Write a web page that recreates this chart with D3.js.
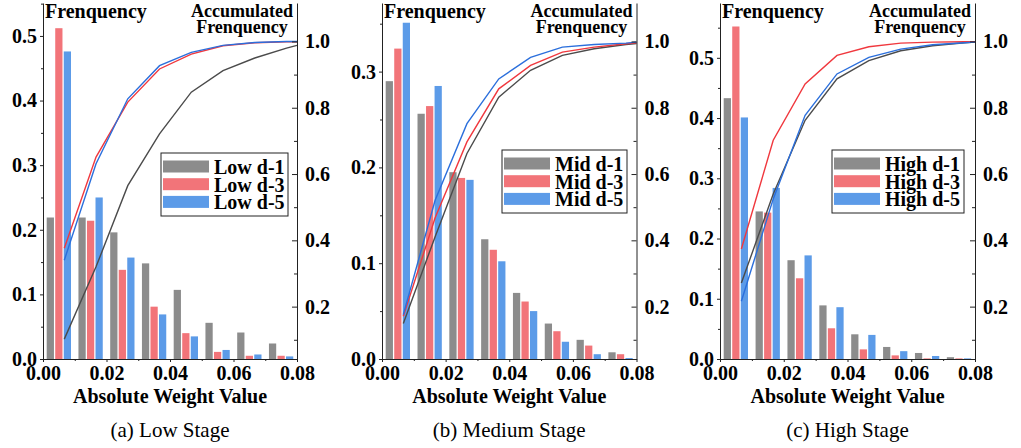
<!DOCTYPE html>
<html>
<head>
<meta charset="utf-8">
<script src="https://cdn.jsdelivr.net/npm/d3@7"></script>
<style>
  body { margin: 0; background: #fff; }
  svg { display: block; font-family: "Liberation Serif", "Times New Roman", serif; }
  svg text { font-family: "Liberation Serif", "Times New Roman", serif; }
  .tick text { font-size: 20px; font-weight: bold; fill: #000; }
  .domain, .tick line { stroke: #222; }
</style>
</head>
<body>
<svg id="chart" width="1021" height="448"></svg>
<script>
// =====================
// Data
// =====================
const binStarts = [0.00, 0.01, 0.02, 0.03, 0.04, 0.05, 0.06, 0.07];           // histogram bins (width 0.01)
const cumX = [0.0067, 0.0167, 0.0267, 0.0367, 0.0467, 0.0567, 0.0667, 0.0767, 0.08]; // points of accumulated curves
const seriesKeys = ['d-1', 'd-3', 'd-5'];

// Low stage
const lowD1 = [0.219, 0.219, 0.196, 0.148, 0.107, 0.056, 0.041, 0.024];
const lowD3 = [0.512, 0.214, 0.138, 0.081, 0.040, 0.011, 0.005, 0.005];
const lowD5 = [0.476, 0.250, 0.157, 0.069, 0.035, 0.014, 0.007, 0.004];
const lowCum1 = [0.102, 0.320, 0.565, 0.721, 0.847, 0.912, 0.950, 0.980, 0.988];
const lowCum3 = [0.376, 0.651, 0.817, 0.917, 0.962, 0.987, 0.996, 0.999, 0.999];
const lowCum5 = [0.340, 0.631, 0.827, 0.927, 0.967, 0.988, 0.997, 1.000, 1.000];

// Medium stage
const midD1 = [0.290, 0.256, 0.195, 0.125, 0.069, 0.037, 0.020, 0.007];
const midD3 = [0.324, 0.264, 0.189, 0.114, 0.060, 0.029, 0.014, 0.005];
const midD5 = [0.351, 0.285, 0.187, 0.102, 0.050, 0.018, 0.005, 0.001];
const midCum1 = [0.149, 0.411, 0.662, 0.832, 0.913, 0.958, 0.978, 0.991, 0.994];
const midCum3 = [0.171, 0.468, 0.697, 0.857, 0.928, 0.968, 0.983, 0.993, 0.996];
const midCum5 = [0.176, 0.521, 0.752, 0.887, 0.952, 0.983, 0.991, 0.995, 0.998];

// High stage
const highD1 = [0.433, 0.245, 0.164, 0.089, 0.041, 0.020, 0.010, 0.003];
const highD3 = [0.552, 0.243, 0.134, 0.051, 0.016, 0.006, 0.001, 0.001];
const highD5 = [0.401, 0.284, 0.172, 0.086, 0.040, 0.013, 0.005, 0.001];
const highCum1 = [0.271, 0.540, 0.762, 0.887, 0.942, 0.972, 0.987, 0.996, 0.998];
const highCum3 = [0.374, 0.702, 0.872, 0.958, 0.984, 0.995, 0.998, 0.999, 0.999];
const highCum5 = [0.216, 0.525, 0.777, 0.902, 0.952, 0.977, 0.990, 0.996, 0.998];

const xTicks = [0, 0.02, 0.04, 0.06, 0.08];
const rightTicks = [0.2, 0.4, 0.6, 0.8, 1.0];

// =====================
// Styling
// =====================
const barColors = {'d-1': '#8c8c8c', 'd-3': '#f27479', 'd-5': '#5c9be8'};
const lineColors = {'d-1': '#4b4b4b', 'd-3': '#f0383e', 'd-5': '#2b6fdc'};
const plotTop = 3, plotBottom = 359;

const panels = [
  { name: 'Low', caption: '(a) Low Stage', left: 43, right: 297, yMax: 0.551, yTicks: [0, 0.1, 0.2, 0.3, 0.4, 0.5],
    bars: [lowD1, lowD3, lowD5], cums: [lowCum1, lowCum3, lowCum5], legendX: 161, legendY: 153, legendW: 127 },
  { name: 'Mid', caption: '(b) Medium Stage', left: 382, right: 636.5, yMax: 0.3716, yTicks: [0, 0.1, 0.2, 0.3],
    bars: [midD1, midD3, midD5], cums: [midCum1, midCum3, midCum5], legendX: 502, legendY: 150, legendW: 125 },
  { name: 'High', caption: '(c) High Stage', left: 720, right: 975, yMax: 0.591, yTicks: [0, 0.1, 0.2, 0.3, 0.4, 0.5],
    bars: [highD1, highD3, highD5], cums: [highCum1, highCum3, highCum5], legendX: 832, legendY: 150, legendW: 132 }
];

const svg = d3.select('#chart');
svg.append('rect').attr('width', 1021).attr('height', 448).attr('fill', '#fff');

// axis helper: drop d3's default font attributes so the CSS serif font applies
const plain = a => a.attr('font-family', null).attr('font-size', null);

panels.forEach(p => {
  const g = svg.append('g');
  const x = d3.scaleLinear([0, 0.08], [p.left, p.right]);
  const y = d3.scaleLinear([0, p.yMax], [plotBottom, plotTop]);
  const yR = d3.scaleLinear([0.042, 1.116], [plotBottom, plotTop]);
  const inner = d3.scaleBand(seriesKeys, [3.7, 28.0]).paddingInner(0.15);

  // --- bars
  p.bars.forEach((vals, si) => {
    g.append('g').selectAll('rect')
      .data(vals)
      .join('rect')
      .attr('x', (d, i) => x(binStarts[i]) + inner(seriesKeys[si]))
      .attr('width', inner.bandwidth())
      .attr('y', d => y(d))
      .attr('height', d => plotBottom - y(d))
      .attr('fill', barColors[seriesKeys[si]]);
  });

  // --- accumulated lines
  const line = d3.line().x((d, i) => x(cumX[i])).y(d => yR(d));
  p.cums.forEach((vals, si) => {
    g.append('path')
      .datum(vals)
      .attr('d', line)
      .attr('fill', 'none')
      .attr('stroke', lineColors[seriesKeys[si]])
      .attr('stroke-width', 1.4);
  });

  // --- axes (minor ticks first, then major)
  const minorY = d3.range(0.05, p.yMax, 0.1);
  g.append('g').attr('transform', `translate(${p.left},0)`)
    .call(d3.axisLeft(y).tickValues(minorY).tickSize(2).tickFormat(''))
    .call(a => a.select('.domain').remove());
  g.append('g').attr('transform', `translate(${p.left},0)`)
    .call(d3.axisLeft(y).tickValues(p.yTicks).tickFormat(d3.format('.1f')).tickSize(3).tickSizeOuter(0).tickPadding(3))
    .call(plain);

  g.append('g').attr('transform', `translate(${p.right},0)`)
    .call(d3.axisRight(yR).tickValues([0.1, 0.3, 0.5, 0.7, 0.9]).tickSize(-3).tickFormat(''))
    .call(a => a.select('.domain').remove());
  g.append('g').attr('transform', `translate(${p.right},0)`)
    .call(d3.axisRight(yR).tickValues(rightTicks).tickFormat(d3.format('.1f')).tickSize(-5).tickSizeOuter(0).tickPadding(8))
    .call(plain);

  g.append('g').attr('transform', `translate(0,${plotBottom})`)
    .call(d3.axisBottom(x).tickValues([0.01, 0.03, 0.05, 0.07]).tickSize(2).tickFormat(''))
    .call(a => a.select('.domain').remove());
  g.append('g').attr('transform', `translate(0,${plotBottom})`)
    .call(d3.axisBottom(x).tickValues(xTicks).tickFormat(d3.format('.2f')).tickSize(3).tickSizeOuter(0).tickPadding(4))
    .call(plain);

  // --- titles
  g.append('text').attr('x', p.left + 2).attr('y', 18)
    .attr('font-size', 20).attr('font-weight', 'bold').text('Frenquency');
  g.append('text').attr('x', p.right - 55).attr('y', 17)
    .attr('text-anchor', 'middle').attr('font-size', 18).attr('font-weight', 'bold').text('Accumulated');
  g.append('text').attr('x', p.right - 55).attr('y', 33)
    .attr('text-anchor', 'middle').attr('font-size', 18).attr('font-weight', 'bold').text('Frenquency');

  g.append('text').attr('x', (p.left + p.right) / 2).attr('y', 403)
    .attr('text-anchor', 'middle').attr('font-size', 20).attr('font-weight', 'bold')
    .text('Absolute Weight Value');
  g.append('text').attr('x', (p.left + p.right) / 2).attr('y', 437)
    .attr('text-anchor', 'middle').attr('font-size', 21)
    .text(p.caption);

  // --- legend
  const lg = g.append('g').attr('transform', `translate(${p.legendX},${p.legendY})`);
  lg.append('rect').attr('width', p.legendW).attr('height', 63)
    .attr('fill', '#fff').attr('stroke', '#222').attr('stroke-width', 1);
  seriesKeys.forEach((k, i) => {
    lg.append('rect').attr('x', 2).attr('y', 7.5 + i * 17.7).attr('width', 46).attr('height', 12)
      .attr('fill', barColors[k]);
    lg.append('text').attr('x', 53).attr('y', 21 + i * 17.7)
      .attr('font-size', 20).attr('font-weight', 'bold')
      .text(p.name + ' ' + k);
  });
});
</script>
</body>
</html>
